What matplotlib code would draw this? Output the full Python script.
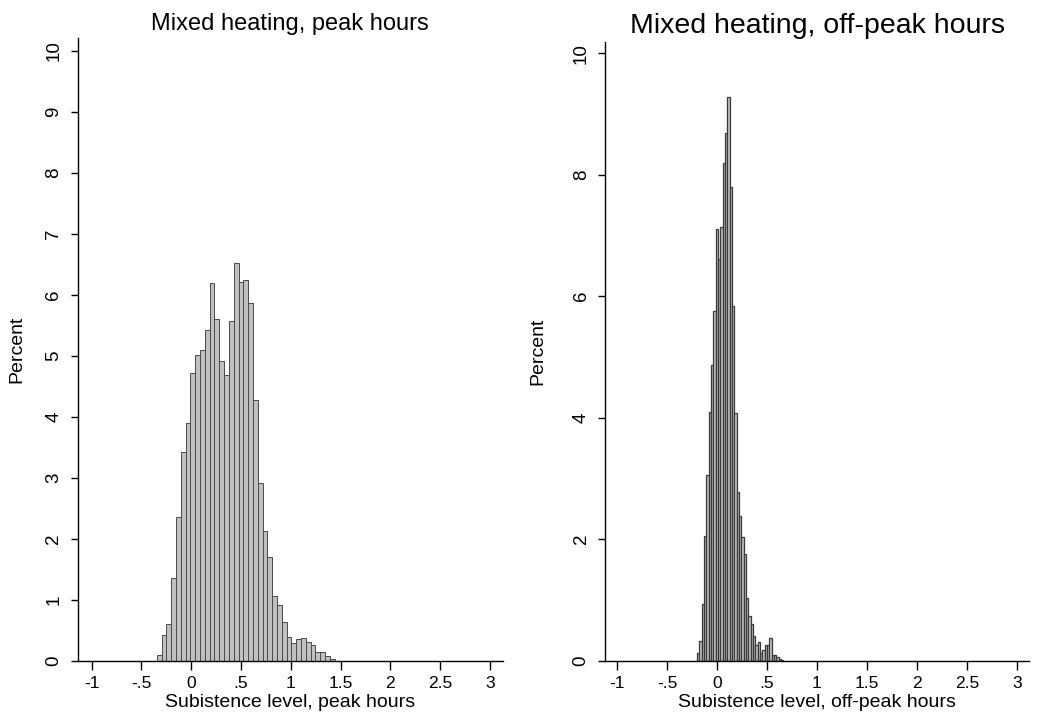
import numpy as np
import matplotlib
matplotlib.use("Agg")
import matplotlib.pyplot as plt

plt.rcParams['font.family'] = ['Liberation Sans', 'DejaVu Sans']

# peak hours: 37 bins
peak_start = -0.346
peak_width = 0.0483
peak_pct = [0.10, 0.42, 0.61, 1.35, 2.36, 3.42, 3.89, 4.72, 5.02, 5.10,
            5.43, 6.19, 5.61, 4.92, 4.68, 5.57, 6.52, 6.21, 6.24, 5.86,
            4.27, 2.92, 2.13, 1.70, 1.06, 0.92, 0.64, 0.39, 0.29, 0.36,
            0.38, 0.30, 0.26, 0.15, 0.15, 0.08, 0.03]

# off-peak hours: 37 bins
off_start = -0.200
off_width = 0.02335
off_pct = [0.13, 0.32, 0.94, 2.05, 3.06, 4.09, 4.87, 5.76, 7.10, 6.61,
           7.14, 8.20, 8.68, 9.28, 7.80, 5.84, 4.08, 2.78, 2.38, 2.04,
           1.76, 1.03, 0.74, 0.60, 0.41, 0.26, 0.31, 0.12, 0.18, 0.26,
           0.26, 0.37, 0.10, 0.10, 0.06, 0.03, 0.02]

xticks = [-1, -0.5, 0, 0.5, 1, 1.5, 2, 2.5, 3]
xtick_labels = ['-1', '-.5', '0', '.5', '1', '1.5', '2', '2.5', '3']

fig = plt.figure(figsize=(10.4, 7.24), dpi=100)
ax1 = fig.add_axes([0.0747, 0.0874, 0.4087, 0.8601])
ax2 = fig.add_axes([0.5817, 0.0874, 0.4080, 0.8550])


def hist_panel(ax, start, width, pct, title, title_size, xlabel, yticks, ymax, xlim,
               ylab_x, lw, ec):
    edges = start + width * np.arange(len(pct))
    ax.bar(edges, pct, width=width, align='edge', color='#c0c0c0',
           edgecolor=ec, linewidth=lw)
    ax.set_xlim(*xlim)
    ax.set_ylim(0, ymax)
    ax.set_xticks(xticks)
    ax.set_xticklabels(xtick_labels)
    ax.set_yticks(yticks)
    ax.set_yticklabels([str(v) for v in yticks], rotation=90, va='center')
    ax.tick_params(axis='x', length=6.5, width=1, pad=4.5, labelsize=12.5)
    ax.tick_params(axis='y', length=5, width=1, pad=6, labelsize=13.5)
    for s in ['top', 'right']:
        ax.spines[s].set_visible(False)
    for s in ['left', 'bottom']:
        ax.spines[s].set_linewidth(1)
    ax.set_title(title, fontsize=title_size, pad=6)
    ax.set_xlabel(xlabel, fontsize=14, labelpad=2)
    ax.set_ylabel('Percent', fontsize=14)
    ax.yaxis.set_label_coords(ylab_x, 0.5)


hist_panel(ax1, peak_start, peak_width, peak_pct, 'Mixed heating, peak hours', 17,
           'Subistence level, peak hours', list(range(0, 11)), 10.21,
           (-1.14, 3.128), -0.124, 0.7, '#4a4a4a')
hist_panel(ax2, off_start, off_width, off_pct, 'Mixed heating, off-peak hours', 20.5,
           'Subistence level, off-peak hours', [0, 2, 4, 6, 8, 10], 10.19,
           (-1.123, 3.126), -0.137, 0.9, '#3a3a3a')

fig.savefig('out.png', dpi=100)
